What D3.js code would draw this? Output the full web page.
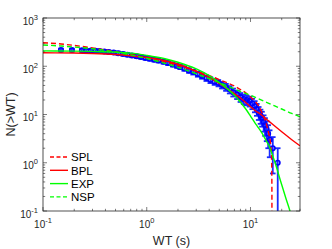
<!DOCTYPE html>
<html>
<head>
<meta charset="utf-8">
<script src="https://cdn.jsdelivr.net/npm/d3@7"></script>
<style>
  body { margin: 0; background: #fff; }
  svg { display: block; font-family: "Liberation Sans", Arial, sans-serif; }
</style>
</head>
<body>
<div id="chart"></div>
<script>
// observed waiting-time distribution, N(>WT) with error bars
var obsWT = [0.149,0.19,0.237,0.26,0.29,0.32,0.35,0.39,0.43,0.48,
  0.53,0.59,0.65,0.72,0.80,0.88,0.97,1.07,1.18,1.30,
  1.45,1.60,1.78,1.95,2.10,2.30,2.55,2.80,3.10,3.40,
  3.75,4.10,4.50,4.90,5.30,5.80,6.30,6.80,7.40,8.00,
  8.60,9.20,9.80,10.4,11.0,11.5,12.0,12.5,12.9,13.4,
  13.8,14.3,14.8,15.3,16.4,18.3];
var obsN = [217,216,214,213,211,209,206,202,198,193,
  187,180,174,167,161,155,149,143,137,131,
  124,117,109,103,97,90,82,76,69,63,
  57,52,48,45,41,37,33,29,26,23,
  21,20,19,17,15,13,11,9.5,8.5,7,
  6,5,4,3,2,1];
var obsErr = [14.7,14.7,14.6,14.6,14.5,14.5,14.4,14.2,14.1,13.9,
  13.7,13.4,13.2,12.9,12.7,12.4,12.2,12.0,11.7,11.4,
  11.1,10.8,10.4,10.1,9.8,9.5,9.1,8.7,8.3,7.9,
  7.5,7.2,6.9,6.7,6.4,6.1,5.7,5.4,5.1,4.8,
  4.6,4.5,4.4,4.1,3.9,3.6,3.3,3.1,2.9,2.6,
  2.4,2.2,2.0,1.7,1.4,1.0];

// fitted models
var splWT = [0.1,0.15,0.2,0.3,0.5,0.7,1,1.5,2,3,4,5,6,7,8,9,10,11,12,13,14,15,15.6,16,16.08,16.1];
var splN  = [308,289,270,240,200,176,150,124,104,80,64,53,45,39,33,28,23,19,15,10.5,7,4,2.5,1.0,0.3,0.05];
var bplWT = [0.1,0.2,0.3,0.5,0.7,1,1.5,2,3,4,5,6,7,8,10,11.3,12,15,20,25,30];
var bplN  = [190,188,184,175,165,152,130,110,78,58,44,34,27,22,14.5,11.7,10.8,7.3,4.4,3.0,2.25];
var expWT = [0.1,0.2,0.3,0.5,0.7,1,1.5,2,3,4,5,6,7,8,9,10,11,12,13,14,15,16,17,18,19,20,22,24,25];
var expN  = [208,206,203,196,187,168,143,121,88,64,46,34,25,18,13,9.3,6.8,5.2,4.0,3.0,2.3,1.6,1.1,0.75,0.5,0.35,0.18,0.1,0.07];
var nspWT = [0.1,0.15,0.2,0.3,0.5,0.7,1,1.5,2,3,4,5,6,7,8,10,12,15,20,25,30];
var nspN  = [276,262,250,230,197,172,145,115,95,70,55,46,39,34,30,25,21,17,13,10.5,9];

var legendNames = ["SPL","BPL","EXP","NSP"];
var xTickExp = [-1, 0, 1];
var yTickExp = [-1, 0, 1, 2, 3];

function draw(sel) {
  var W = 332, H = 249;
  var margin = {top: 18, right: 32, bottom: 38, left: 43},
    width = W - margin.left - margin.right,
    height = H - margin.top - margin.bottom;
  var axisCol = "#262626";

  var svg = sel.append("svg").attr("width", W).attr("height", H);
  var g = svg.append("g").attr("transform", "translate(" + margin.left + "," + margin.top + ")");

  var x = d3.scaleLog().domain([0.1, 30]).range([0, width]);
  var y = d3.scaleLog().domain([0.1, 1000]).range([height, 0]);

  svg.append("defs").append("clipPath").attr("id", "clip")
    .append("rect").attr("width", width).attr("height", height);

  // ticks inside on all sides
  function minorTicks(scale) {
    var d = scale.domain(), out = [];
    for (var e = Math.floor(Math.log10(d[0])); e <= Math.ceil(Math.log10(d[1])); e++)
      for (var m = 1; m < 10; m++) {
        var v = m * Math.pow(10, e);
        if (v >= d[0] * 0.999 && v <= d[1] * 1.001) out.push({v: v, major: m === 1});
      }
    return out;
  }
  var tk = g.append("g").attr("stroke", axisCol).attr("stroke-width", 0.6);
  minorTicks(x).forEach(function (t) {
    var L = t.major ? 4 : 2.2, px = x(t.v);
    tk.append("line").attr("x1", px).attr("x2", px).attr("y1", height).attr("y2", height - L);
    tk.append("line").attr("x1", px).attr("x2", px).attr("y1", 0).attr("y2", L);
  });
  minorTicks(y).forEach(function (t) {
    var L = t.major ? 4 : 2.2, py = y(t.v);
    tk.append("line").attr("x1", 0).attr("x2", L).attr("y1", py).attr("y2", py);
    tk.append("line").attr("x1", width).attr("x2", width - L).attr("y1", py).attr("y2", py);
  });

  // error bars + markers
  var pts = obsWT.map(function (w, i) { return {x: w, n: obsN[i], e: obsErr[i]}; });
  var data = g.append("g").attr("clip-path", "url(#clip)");
  var barCol = "#1a2cff";
  pts.forEach(function (p) {
    var lo = Math.max(p.n - p.e, 0.05), hi = p.n + p.e, px = x(p.x);
    data.append("line").attr("x1", px).attr("x2", px).attr("y1", y(lo)).attr("y2", y(hi))
      .attr("stroke", barCol).attr("stroke-width", 1.8);
    [lo, hi].forEach(function (v) {
      data.append("line").attr("x1", px - 2.8).attr("x2", px + 2.8).attr("y1", y(v)).attr("y2", y(v))
        .attr("stroke", barCol).attr("stroke-width", 1.8);
    });
  });
  data.selectAll("circle").data(pts).enter().append("circle")
    .attr("cx", function (d) { return x(d.x); })
    .attr("cy", function (d) { return y(d.n); })
    .attr("r", 2.2).attr("fill", "none").attr("stroke", "#0000ff").attr("stroke-width", 1.6);

  // model curves
  var line = d3.line().x(function (d) { return x(d[0]); }).y(function (d) { return y(d[1]); })
    .curve(d3.curveMonotoneX);
  var models = [
    {wt: splWT, n: splN, col: "#ff0000", dash: "5,3"},
    {wt: bplWT, n: bplN, col: "#ff0000", dash: null},
    {wt: expWT, n: expN, col: "#00ff00", dash: null},
    {wt: nspWT, n: nspN, col: "#00ff00", dash: "5,3"}
  ];
  var mg = g.append("g").attr("clip-path", "url(#clip)");
  models.forEach(function (m) {
    mg.append("path").datum(m.wt.map(function (w, i) { return [w, m.n[i]]; }))
      .attr("d", line).attr("fill", "none").attr("stroke", m.col)
      .attr("stroke-width", 1.4).attr("stroke-dasharray", m.dash);
  });

  // box
  g.append("rect").attr("width", width).attr("height", height)
    .attr("fill", "none").attr("stroke", axisCol).attr("stroke-width", 0.8);

  // tick labels
  xTickExp.forEach(function (e) {
    var t = g.append("text").attr("x", x(Math.pow(10, e))).attr("y", height + 17)
      .attr("text-anchor", "middle").attr("font-size", 10).attr("fill", axisCol);
    t.append("tspan").text("10");
    t.append("tspan").attr("dy", -5).attr("font-size", 7.5).text(e);
  });
  yTickExp.forEach(function (e) {
    var t = g.append("text").attr("x", -5).attr("y", y(Math.pow(10, e)) + 6.5)
      .attr("text-anchor", "end").attr("font-size", 10).attr("fill", axisCol);
    t.append("tspan").text("10");
    t.append("tspan").attr("dy", -5).attr("font-size", 7.5).text(e);
  });

  // axis labels
  svg.append("text").attr("x", margin.left + width / 2).attr("y", H - 4)
    .attr("text-anchor", "middle").attr("font-size", 12.5).attr("fill", axisCol).text("WT (s)");
  svg.append("text").attr("transform", "translate(15," + (margin.top + height / 2) + ") rotate(-90)")
    .attr("text-anchor", "middle").attr("font-size", 12.5).attr("fill", axisCol).text("N(>WT)");

  // legend
  var lg = g.append("g").attr("transform", "translate(7,139)");
  legendNames.forEach(function (name, i) {
    var m = models[i], yy = i * 13.3;
    lg.append("line").attr("x1", 0).attr("x2", 18).attr("y1", yy).attr("y2", yy)
      .attr("stroke", m.col).attr("stroke-width", 1.4).attr("stroke-dasharray", m.dash ? "4,2.5" : null);
    lg.append("text").attr("x", 21).attr("y", yy + 4.2).attr("font-size", 11.5)
      .attr("fill", "#000").text(name);
  });
}

draw(d3.select("#chart"));
</script>
</body>
</html>
